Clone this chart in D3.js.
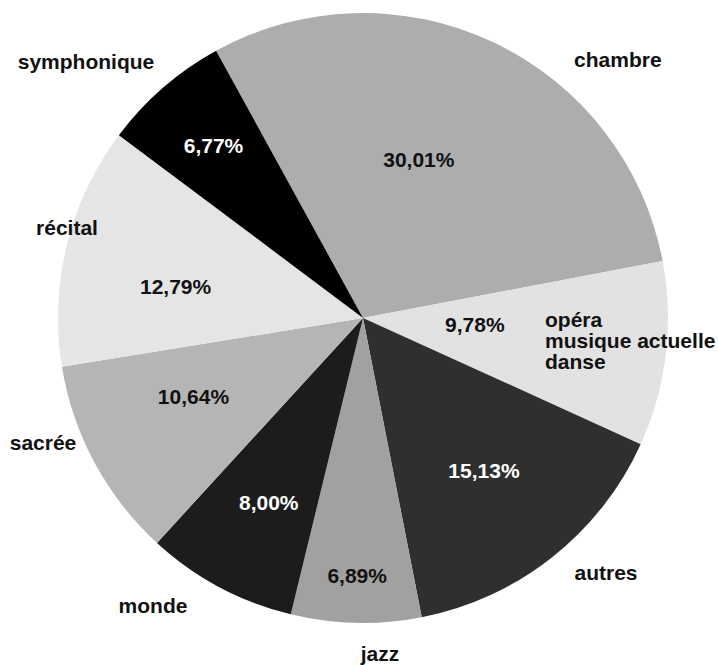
<!DOCTYPE html>
<html>
<head>
<meta charset="utf-8">
<script src="https://cdn.jsdelivr.net/npm/d3@7"></script>
<style>
  body { margin: 0; background: #fff; }
  svg text { font-family: "Liberation Sans", Arial, sans-serif; font-weight: bold; }
</style>
</head>
<body>
<svg id="chart" width="718" height="665"></svg>
<script>
// slices, clockwise from the top-left edge of "chambre"
const categories = ['chambre', 'opéra', 'autres', 'jazz', 'monde', 'sacrée', 'récital', 'symphonique'];
const shares = [30.01, 9.78, 15.13, 6.89, 8.00, 10.64, 12.79, 6.77];
const outerLabels = [
  ['chambre'],
  ['opéra', 'musique actuelle', 'danse'],
  ['autres'],
  ['jazz'],
  ['monde'],
  ['sacrée'],
  ['récital'],
  ['symphonique']
];

// layout (not data): fills, label placement
const fills = ['#adadad', '#e2e2e2', '#2f2f2f', '#a1a1a1', '#1c1c1c', '#b5b5b5', '#e5e5e5', '#000000'];
const pctColor = ['#111', '#111', '#fff', '#111', '#fff', '#111', '#111', '#fff'];
const pctRadius = [168, 112, 195, 258, 207, 187, 190, 228];
const pctAngleShift = [-5.8, -3.2, 0, 0, -1, 3.4, -4.4, 0];
const outerPos = [
  {r: 363, a: 44.6, anchor: 'middle'},
  {anchor: 'start', x: 545, y: 320},
  {anchor: 'middle', x: 606, y: 573},
  {anchor: 'middle', x: 380, y: 654},
  {anchor: 'middle', x: 153, y: 606},
  {anchor: 'middle', x: 43, y: 443},
  {anchor: 'middle', x: 67, y: 228},
  {anchor: 'middle', x: 86, y: 62}
];

const cx = 363, cy = 318, radius = 305;
const startDeg = -28.8;
const fontSize = 21;

const svg = d3.select('#chart');
const g = svg.append('g').attr('transform', `translate(${cx},${cy})`);

const rows = categories.map((c, i) => ({name: c, value: shares[i], i: i}));

const pie = d3.pie()
  .sort(null)
  .value(d => d.value)
  .startAngle(startDeg * Math.PI / 180)
  .endAngle((startDeg + 360) * Math.PI / 180);

const arcs = pie(rows);
const arc = d3.arc().innerRadius(0).outerRadius(radius);

g.selectAll('path.slice')
  .data(arcs)
  .join('path')
  .attr('class', 'slice')
  .attr('d', arc)
  .attr('fill', d => fills[d.data.i]);

const fmt = v => d3.format('.2f')(v).replace('.', ',') + '%';

g.selectAll('text.pct')
  .data(arcs)
  .join('text')
  .attr('class', 'pct')
  .attr('transform', d => {
    const i = d.data.i;
    const mid = (d.startAngle + d.endAngle) / 2 + pctAngleShift[i] * Math.PI / 180;
    const r = pctRadius[i];
    const c = d3.arc().innerRadius(r).outerRadius(r).startAngle(mid).endAngle(mid).centroid();
    return `translate(${c[0]},${c[1]})`;
  })
  .attr('text-anchor', 'middle')
  .attr('dy', '0.35em')
  .attr('font-size', fontSize)
  .attr('fill', d => pctColor[d.data.i])
  .text(d => fmt(d.data.value));

const lab = svg.selectAll('text.cat')
  .data(arcs)
  .join('text')
  .attr('class', 'cat')
  .attr('font-size', fontSize)
  .attr('fill', '#111')
  .attr('text-anchor', d => outerPos[d.data.i].anchor)
  .attr('transform', d => {
    const p = outerPos[d.data.i];
    if (p.x !== undefined) return `translate(${p.x},${p.y})`;
    const a = p.a * Math.PI / 180;
    const c = d3.arc().innerRadius(p.r).outerRadius(p.r).startAngle(a).endAngle(a).centroid();
    return `translate(${cx + c[0]},${cy + c[1]})`;
  });

lab.selectAll('tspan')
  .data(d => outerLabels[d.data.i])
  .join('tspan')
  .attr('x', 0)
  .attr('y', (t, j) => j * 21)
  .attr('dy', '0.35em')
  .text(t => t);
</script>
</body>
</html>
